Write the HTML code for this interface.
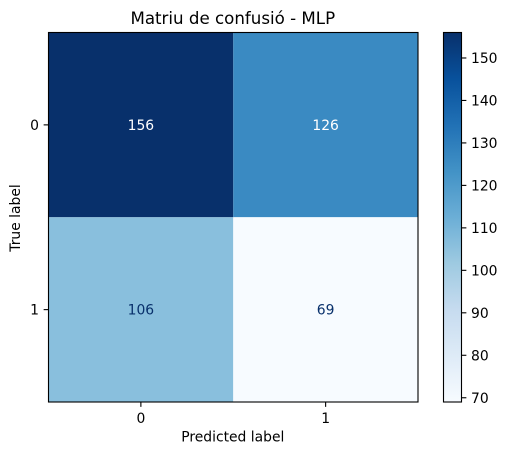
<!DOCTYPE html>
<html lang="ca">
<head>
<meta charset="utf-8">
<title>Matriu de confusió - MLP</title>
<style>
html,body{margin:0;padding:0;background:#fff;width:507px;height:455px;overflow:hidden}
svg{display:block}
text{font-family:"DejaVu Sans",sans-serif;fill:#000}
</style>
</head>
<body>
<svg id="chart" xmlns="http://www.w3.org/2000/svg" width="507" height="455" viewBox="0 0 507 455"></svg>
<script>
const xCategories = ['0', '1'];
const yCategories = ['0', '1'];
const row0Values = [156, 126];
const row1Values = [106, 69];
const colorbarTicks = [70, 80, 90, 100, 110, 120, 130, 140, 150];
const blueStops = ['#f7fbff', '#deebf7', '#c6dbef', '#9ecae1', '#6baed6', '#4292c6', '#2171b5', '#08519c', '#08306b'];

const NS = 'http://www.w3.org/2000/svg';
const svg = document.getElementById('chart');
const plot = {left: 48.5, right: 418, top: 32.5, bottom: 402};
const bar = {left: 443.5, right: 461.5, top: 32.5, bottom: 402};
const matrix = [row0Values, row1Values];
const allValues = row0Values.concat(row1Values);
const vMin = Math.min.apply(null, allValues);
const vMax = Math.max.apply(null, allValues);
const threshold = (vMin + vMax) / 2;

function xCenter(i) {
  return plot.left + (i + 0.5) * (plot.right - plot.left) / xCategories.length;
}
function yCenter(i) {
  return plot.top + (i + 0.5) * (plot.bottom - plot.top) / yCategories.length;
}
function barY(v) {
  return bar.bottom - (v - vMin) / (vMax - vMin) * (bar.bottom - bar.top);
}
function hexToRgb(h) {
  return [parseInt(h.slice(1, 3), 16), parseInt(h.slice(3, 5), 16), parseInt(h.slice(5, 7), 16)];
}
function colorFor(v) {
  const t = Math.max(0, Math.min(1, (v - vMin) / (vMax - vMin))) * (blueStops.length - 1);
  const i = Math.min(Math.floor(t), blueStops.length - 2);
  const a = hexToRgb(blueStops[i]);
  const b = hexToRgb(blueStops[i + 1]);
  const f = t - i;
  return 'rgb(' + a.map(function (c, k) { return Math.round(c + (b[k] - c) * f); }).join(',') + ')';
}
function make(tag, attrs, parent) {
  const el = document.createElementNS(NS, tag);
  Object.keys(attrs).forEach(function (k) { el.setAttribute(k, attrs[k]); });
  (parent || svg).appendChild(el);
  return el;
}

// Background
const bg = make('rect', {x: 0, y: 0, width: 507, height: 455, fill: '#fff'});



// Heatmap cells
const cellW = (plot.right - plot.left) / xCategories.length;
const cellH = (plot.bottom - plot.top) / yCategories.length;
matrix.forEach(function (row, r) {
  row.forEach(function (v, c) {
    const cell = make('rect', {
      x: xCenter(c) - cellW / 2,
      y: yCenter(r) - cellH / 2,
      width: cellW,
      height: cellH,
      fill: colorFor(v)
    });
    
    
    const label = make('text', {
      x: xCenter(c),
      y: yCenter(r) + 5,
      'text-anchor': 'middle',
      'font-size': '13.89px'
    });
    label.style.fill = v > threshold ? '#ffffff' : '#08306b';
    label.textContent = String(v);
    
    
  });
});

// Plot frame
const frame = make('rect', {
  x: plot.left,
  y: plot.top,
  width: plot.right - plot.left,
  height: plot.bottom - plot.top,
  fill: 'none',
  stroke: '#000',
  'stroke-width': 1.11
});



// X axis ticks
xCategories.forEach(function (cat, i) {
  const tick = make('line', {
    x1: xCenter(i), x2: xCenter(i),
    y1: plot.bottom, y2: plot.bottom + 4.86,
    stroke: '#000', 'stroke-width': 1.11
  });
  
  
  const label = make('text', {
    x: xCenter(i), y: plot.bottom + 21,
    'text-anchor': 'middle', 'font-size': '13.89px'
  });
  label.textContent = cat;
  
  
});

// Y axis ticks
yCategories.forEach(function (cat, i) {
  const tick = make('line', {
    x1: plot.left - 4.86, x2: plot.left,
    y1: yCenter(i), y2: yCenter(i),
    stroke: '#000', 'stroke-width': 1.11
  });
  
  
  const label = make('text', {
    x: plot.left - 9.5, y: yCenter(i) + 5,
    'text-anchor': 'end', 'font-size': '13.89px'
  });
  label.textContent = cat;
  
  
});

// Title and axis titles
const title = make('text', {
  x: 232.8, y: 24,
  'text-anchor': 'middle', 'font-size': '16.67px'
});
title.textContent = 'Matriu de confusió - MLP';



const xTitle = make('text', {
  x: 232.8, y: 441.5,
  'text-anchor': 'middle', 'font-size': '13.89px'
});
xTitle.textContent = 'Predicted label';



const yTitle = make('text', {
  x: 0, y: 0,
  'text-anchor': 'middle', 'font-size': '13.89px',
  transform: 'translate(20,218) rotate(-90)'
});
yTitle.textContent = 'True label';



// Colorbar
const defs = make('defs', {});
const gradient = make('linearGradient', {id: 'blues', x1: 0, y1: 1, x2: 0, y2: 0}, defs);
blueStops.forEach(function (color, i) {
  make('stop', {offset: i / (blueStops.length - 1), 'stop-color': color}, gradient);
});
const colorbar = make('rect', {
  x: bar.left, y: bar.top,
  width: bar.right - bar.left, height: bar.bottom - bar.top,
  fill: 'url(#blues)', stroke: '#000', 'stroke-width': 1.11
});



colorbarTicks.forEach(function (v) {
  const y = barY(v);
  const tick = make('line', {
    x1: bar.right, x2: bar.right + 4.86,
    y1: y, y2: y,
    stroke: '#000', 'stroke-width': 1.11
  });
  
  
  const label = make('text', {
    x: bar.right + 9.5, y: y + 5,
    'font-size': '13.89px'
  });
  label.textContent = String(v);
  
  
});
</script>
</body>
</html>
